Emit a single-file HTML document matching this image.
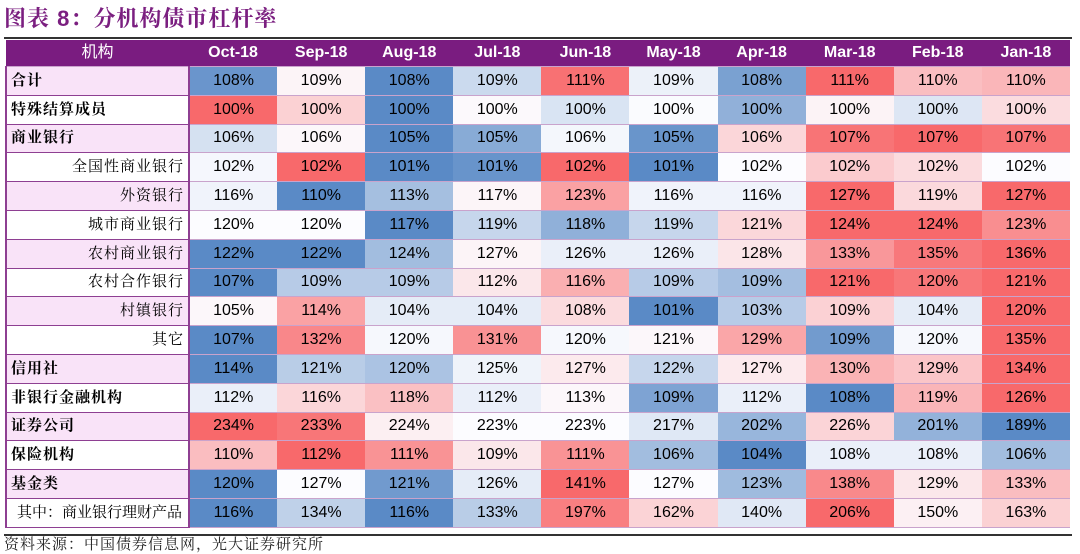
<!DOCTYPE html>
<html><head><meta charset="utf-8"><style>
body{margin:0;width:1080px;height:554px;background:#fff;font-family:"Liberation Sans","Noto Sans CJK SC",sans-serif;overflow:hidden;position:relative}
#title{position:absolute;left:4px;top:2px;font-size:22px;font-weight:bold;color:#7b1f80;font-family:"Liberation Sans","Noto Serif CJK SC",serif;letter-spacing:1px}
#topline{position:absolute;left:4px;top:37px;width:1068px;height:2px;background:#333}
#tbl{position:absolute;left:5px;top:40px;border-collapse:collapse;table-layout:fixed;width:1064px}
#tbl td,#tbl th{height:27.8px;line-height:20px;padding:0;font-size:16px;text-align:center;border-bottom:1px solid #c9a3cc;white-space:nowrap;overflow:hidden}
#tbl th{background:#7a1c80;color:#fff;font-weight:bold;height:26px}
#tbl td.lab{text-align:left;padding-left:4px;border-left:2px solid #8e3f92;border-right:2px solid #8e3f92;border-bottom:1px solid #8e3f92;font-weight:bold;font-size:15px;letter-spacing:1px;font-family:"Liberation Sans","Noto Serif CJK SC",serif}
#tbl td.lab.sub{text-align:right;padding-right:4px;font-weight:normal}
#tbl td.lab.sub2{text-align:left;padding-left:10px;font-weight:normal;letter-spacing:0}
#bottomline{position:absolute;left:4px;top:534px;width:1068px;height:2px;background:#333}
#src{position:absolute;left:4px;top:536px;font-size:15px;line-height:18px;color:#222;font-family:"Liberation Sans","Noto Serif CJK SC",serif;letter-spacing:1px}
</style></head><body>
<div id="title">图表 8：分机构债市杠杆率</div>
<div id="topline"></div>
<table id="tbl"></table>
<div id="bottomline"></div>
<div id="src">资料来源：中国债券信息网，光大证券研究所</div>
<script>
const months=["Oct-18","Sep-18","Aug-18","Jul-18","Jun-18","May-18","Apr-18","Mar-18","Feb-18","Jan-18"];
const institutions=["合计","特殊结算成员","商业银行","全国性商业银行","外资银行","城市商业银行","农村商业银行","农村合作银行","村镇银行","其它","信用社","非银行金融机构","证券公司","保险机构","基金类","其中：商业银行理财产品"];
const levels=[0,0,0,1,1,1,1,1,1,1,0,0,0,0,0,2];
const v0=[108.2,109.2,108.1,108.8,110.9,109.0,108.3,111.0,109.9,110.0];
const v1=[100.40,100.22,99.70,100.15,100.05,100.14,99.85,100.16,100.06,100.20];
const v2=[105.7,106.0,104.9,105.2,105.9,105.0,106.3,107.2,107.3,107.2];
const v3=[101.9,102.4,100.8,100.9,102.4,100.8,101.95,102.1,102.05,101.95];
const v4=[116,110,113,117,123,116,116,127,119,127];
const v5=[120,120,117,119,118,119,121,124,124,123];
const v6=[122,122,124,127,126,126,128,133,135,136];
const v7=[107,109,109,112,116,109,108.6,121,120,121];
const v8=[105,114,104,104,108,101,103,109,104,120];
const v9=[107,132,120,131,120,121,129,109,120,135];
const v10=[114,121,120,125,127,122,127,130,129,134];
const v11=[112,116,118,112,113,109,112,108,119,126];
const v12=[234,233,224,223,223,217,202,226,201,189];
const v13=[110,112,111,109,111,106,104,108,108,106];
const v14=[120,127,121,126,141,127,123,138,129,133];
const v15=[116,134,116,133,197,162,140,206,150,163];
const values=[v0,v1,v2,v3,v4,v5,v6,v7,v8,v9,v10,v11,v12,v13,v14,v15];

const BLUE=[90,138,198],WHITE=[252,252,255],RED=[248,105,107];
function mix(a,b,t){return 'rgb('+a.map((x,i)=>Math.round(x+(b[i]-x)*t)).join(',')+')';}
function colorScale(row){
  const s=[...row].sort((a,b)=>a-b);const mn=s[0],mx=s[s.length-1];
  const med=(s[4]+s[5])/2;
  return v=>v<=med?mix(BLUE,WHITE,mx===mn?1:(v-mn)/((med-mn)||1)):mix(WHITE,RED,(v-med)/((mx-med)||1));
}
const tbl=document.getElementById('tbl');
const cg=document.createElement('colgroup');
const c0=document.createElement('col');c0.style.width='183px';cg.appendChild(c0);
months.forEach(()=>{const c=document.createElement('col');c.style.width='88.1px';cg.appendChild(c);});
tbl.appendChild(cg);
const hr=document.createElement('tr');


const h0=document.createElement('th');h0.textContent='机构';


h0.style.fontWeight='normal';
hr.appendChild(h0);
months.forEach(m=>{const th=document.createElement('th');th.textContent=m;


hr.appendChild(th);});
tbl.appendChild(hr);
institutions.forEach((name,r)=>{
  const tr=document.createElement('tr');
  
  
  const td=document.createElement('td');
  td.className='lab'+(levels[r]===1?' sub':levels[r]===2?' sub2':'');
  td.style.background=(r%2===0)?'#f9e3f8':'#ffffff';
  td.textContent=name;
  
  
  tr.appendChild(td);
  const sc=colorScale(values[r]);
  values[r].forEach(v=>{
    const c=document.createElement('td');
    c.style.background=sc(v);
    c.textContent=Math.round(v)+'%';
    
    
    tr.appendChild(c);
  });
  tbl.appendChild(tr);
});
</script>
</body></html>
